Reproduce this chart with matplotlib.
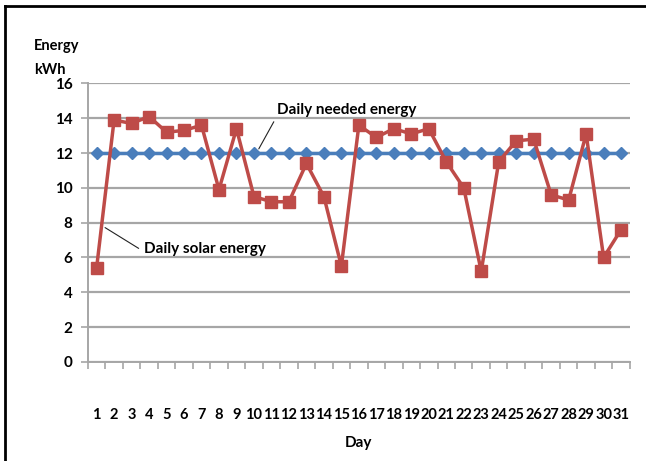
import matplotlib.pyplot as plt
from matplotlib.lines import Line2D

days = list(range(1, 32))
day_labels = [str(d) for d in days]
needed = [12] * 31
solar = [5.4, 13.9, 13.7, 14.1, 13.2, 13.3, 13.6, 9.9, 13.4, 9.5,
         9.2, 9.2, 11.4, 9.5, 5.5, 13.6, 12.9, 13.4, 13.1, 13.4,
         11.5, 10.0, 5.2, 11.5, 12.7, 12.8, 9.6, 9.3, 13.1, 6.0, 7.6]

plt.rcParams['font.family'] = ['Lato', 'DejaVu Sans']
plt.rcParams['font.weight'] = 'bold'

fig = plt.figure(figsize=(6.46, 4.61), dpi=100)
ax = fig.add_axes([0.136, 0.215, 0.839, 0.604])

grid_c = '#a6a6a6'
ax.set_ylim(0, 16)
ax.set_xlim(0.5, 31.5)
ax.set_yticks(range(0, 17, 2))
ax.yaxis.grid(True, color=grid_c, linewidth=1.6)
ax.set_axisbelow(True)

ax.plot(days, needed, color='#4a7ebb', linewidth=2.5, marker='D',
        markersize=6, zorder=3)
ax.plot(days, solar, color='#be4b48', linewidth=2.5, marker='s',
        markersize=9, zorder=4)

ax.set_xticks(days)
ax.set_xticklabels(day_labels)
ax.set_xticks([d + 0.5 for d in range(0, 32)], minor=True)
ax.tick_params(axis='x', which='major', length=0, pad=33, labelsize=10.5)
ax.tick_params(axis='x', which='minor', length=5, color=grid_c, width=1.2,
               direction='out')
ax.tick_params(axis='y', length=5, color=grid_c, width=1.2, pad=6,
               labelsize=11)

for s in ['top', 'right']:
    ax.spines[s].set_visible(False)
for s in ['left', 'bottom']:
    ax.spines[s].set_color(grid_c)
    ax.spines[s].set_linewidth(1.4)

ax.set_xlabel('Day', fontsize=11, fontweight='bold')
ax.xaxis.set_label_coords(0.5, -0.265)

fig.text(34 / 646, 1 - 46 / 461, 'Energy', fontsize=10.5, va='center')
fig.text(34 / 646, 1 - 70 / 461, 'kWh', fontsize=10.5, va='center')

# annotations
ax.annotate('Daily needed energy', xy=(10.2, 12.1), xytext=(11.3, 14.5),
            fontsize=11, va='center', ha='left',
            arrowprops=dict(arrowstyle='-', color='#222222', lw=0.8,
                            relpos=(0, 0)))
ax.annotate('Daily solar energy', xy=(1.35, 7.8), xytext=(3.7, 6.5),
            fontsize=11, va='center', ha='left',
            arrowprops=dict(arrowstyle='-', color='#222222', lw=0.8,
                            relpos=(0, 0.3)))

# frame lines on the figure
fig.add_artist(Line2D([5 / 646, 5 / 646], [0, 1 - 6 / 461],
                      transform=fig.transFigure, color='black', lw=2))
fig.add_artist(Line2D([5 / 646, 1], [1 - 6 / 461, 1 - 6 / 461],
                      transform=fig.transFigure, color='black', lw=2))

fig.savefig('out.png', dpi=100)
